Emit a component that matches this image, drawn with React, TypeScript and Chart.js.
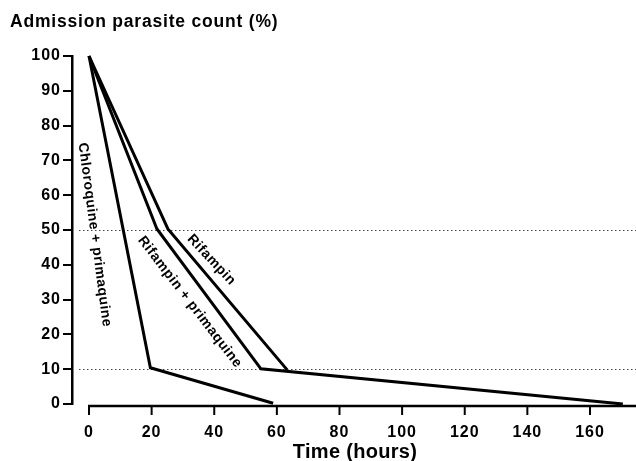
import React, { useEffect, useRef } from "react";
import { Chart, registerables } from "chart.js";

Chart.register(...registerables);

const xTicks = [0, 20, 40, 60, 80, 100, 120, 140, 160];
const yTicks = [0, 10, 20, 30, 40, 50, 60, 70, 80, 90, 100];
const refLevels = [50, 10];

const chloroquinePrimaquine = [
  { x: 0, y: 100 },
  { x: 19.6, y: 10.4 },
  { x: 58.8, y: 0.2 },
];
const rifampinPrimaquine = [
  { x: 0, y: 100 },
  { x: 21.7, y: 50.3 },
  { x: 54.9, y: 10.1 },
  { x: 170.5, y: 0 },
];
const rifampin = [
  { x: 0, y: 100 },
  { x: 25.2, y: 50.3 },
  { x: 63.3, y: 9.8 },
];

const seriesLabels = ["Chloroquine + primaquine", "Rifampin + primaquine", "Rifampin"];
// label anchor (data units) and angle (degrees)
const labelAnchors = [
  { x: 1.8, y: 48.6, angle: 82.4 },
  { x: 32.2, y: 29.3, angle: 52.5 },
  { x: 39.1, y: 41.4, angle: 47 },
];

const yTitle = "Admission parasite count (%)";
const xTitle = "Time (hours)";

const FONT = "'Liberation Sans', Arial, sans-serif";

export default function App() {
  const ref = useRef<HTMLCanvasElement | null>(null);
  useEffect(() => {
    if (!ref.current) return;
    const deco = {
      id: "deco",
      beforeDraw(chart: any) {
        (chart.ctx as any).letterSpacing = "1px";
      },
      beforeDatasetsDraw(chart: any) {
        const ctx = chart.ctx;
        const xs = chart.scales.x;
        const ys = chart.scales.y;
        ctx.save();
        ctx.strokeStyle = "#444";
        ctx.lineWidth = 1;
        ctx.setLineDash([1.5, 2.5]);
        refLevels.forEach((lv) => {
          const y = Math.round(ys.getPixelForValue(lv)) + 0.5;
          ctx.beginPath();
          ctx.moveTo(chart.chartArea.left + 7, y);
          ctx.lineTo(chart.width, y);
          ctx.stroke();
        });
        ctx.restore();
        // x axis line and ticks
        ctx.save();
        ctx.strokeStyle = "#000";
        ctx.lineWidth = 2.5;
        const ay = ys.getPixelForValue(0) + 2;
        ctx.beginPath();
        ctx.moveTo(xs.getPixelForValue(0) - 1, ay);
        ctx.lineTo(chart.width, ay);
        ctx.stroke();
        ctx.lineWidth = 2;
        xTicks.forEach((t) => {
          const x = xs.getPixelForValue(t);
          ctx.beginPath();
          ctx.moveTo(x, ay);
          ctx.lineTo(x, ay + 9);
          ctx.stroke();
        });
        ctx.restore();
      },
      afterDatasetsDraw(chart: any) {
        const ctx = chart.ctx;
        const xs = chart.scales.x;
        const ys = chart.scales.y;
        ctx.save();
        ctx.fillStyle = "#000";
        (ctx as any).letterSpacing = "0.5px";
        ctx.font = `bold 14px ${FONT}`;
        ctx.textAlign = "center";
        ctx.textBaseline = "middle";
        seriesLabels.forEach((lab, i) => {
          const a = labelAnchors[i];
          ctx.save();
          ctx.translate(xs.getPixelForValue(a.x), ys.getPixelForValue(a.y));
          ctx.rotate((a.angle * Math.PI) / 180);
          ctx.fillText(lab, 0, 0);
          ctx.restore();
        });
        (ctx as any).letterSpacing = "0.8px";
        ctx.font = `bold 17.5px ${FONT}`;
        ctx.textAlign = "left";
        ctx.textBaseline = "alphabetic";
        ctx.fillText(yTitle, 10, 27);
        (ctx as any).letterSpacing = "0.3px";
        ctx.font = `bold 20px ${FONT}`;
        ctx.textAlign = "center";
        ctx.fillText(xTitle, 355, 458);
        ctx.restore();
      },
    };
    const line = (data: any[]) => ({
      data,
      borderColor: "#000",
      borderWidth: 3,
      pointRadius: 0,
      tension: 0,
      clip: false as any,
      borderJoinStyle: "miter" as const,
      fill: false,
    });
    const chart = new Chart(ref.current, {
      type: "line",
      data: {
        datasets: [
          { label: seriesLabels[0], ...line(chloroquinePrimaquine) },
          { label: seriesLabels[1], ...line(rifampinPrimaquine) },
          { label: seriesLabels[2], ...line(rifampin) },
        ] as any,
      },
      options: {
        animation: false,
        responsive: false,
        devicePixelRatio: 1,
        layout: { padding: { top: 56, left: 0, right: 0, bottom: 0 } },
        plugins: { legend: { display: false }, tooltip: { enabled: false }, title: { display: false } },
        scales: {
          x: {
            type: "linear",
            min: -5.43,
            max: 174.7,
            grid: { display: false },
            border: { display: false },
            afterBuildTicks: (s: any) => {
              s.ticks = xTicks.map((v) => ({ value: v }));
            },
            afterFit: (s: any) => {
              s.height = 57;
            },
            ticks: {
              color: "#000",
              font: { family: FONT, size: 16, weight: "bold" },
              padding: 11,
              maxRotation: 0,
              autoSkip: false,
            },
          },
          y: {
            type: "linear",
            min: 0,
            max: 100,
            afterBuildTicks: (s: any) => {
              s.ticks = yTicks.map((v) => ({ value: v }));
            },
            afterFit: (s: any) => {
              s.width = 72;
            },
            grid: { drawOnChartArea: false, drawTicks: true, tickLength: 9, color: "#000", lineWidth: 2 },
            border: { display: true, color: "#000", width: 2.5 },
            ticks: {
              color: "#000",
              font: { family: FONT, size: 16, weight: "bold" },
              padding: 2,
            },
          },
        },
      },
      plugins: [deco],
    });
    return () => chart.destroy();
  }, []);
  return (
    <div style={{ position: "fixed", left: 0, top: 0, width: 636, height: 461, background: "#fff" }}>
      <canvas ref={ref} width={636} height={461} style={{ width: 636, height: 461 }} />
    </div>
  );
}
